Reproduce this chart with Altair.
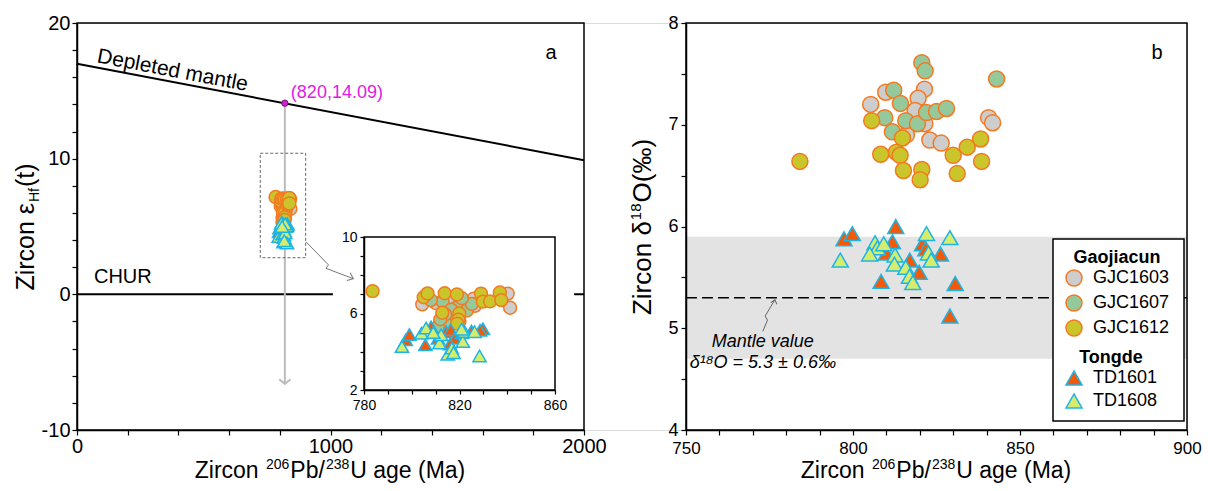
import altair as alt
import pandas as pd

FONT = "Liberation Sans"

# ---------------- data ----------------
# reference curves (left panel)
dm_age = [0, 2000]
dm_eps = [16.99, 9.89]
chur_age = [0, 2000]
chur_eps = [0, 0]
dm_point_age = [820]
dm_point_eps = [14.09]

# zircon eHf(t) (left panel + inset)
hf_gjc1603_age = [804.4, 810.0, 815.4, 826.4, 826.0, 840.2, 841.2, 822.0, 816.0, 818.0, 812.0]
hf_gjc1603_val = [6.48, 6.55, 6.81, 6.40, 6.78, 7.04, 6.30, 6.55, 5.50, 5.80, 5.60]
hf_gjc1607_age = [818.8, 823.0, 825.2, 813.0, 815.0, 811.0, 816.5, 821.0, 814.0, 820.0, 808.0, 812.0]
hf_gjc1607_val = [6.30, 6.15, 6.50, 6.60, 5.40, 5.30, 6.20, 6.80, 5.95, 5.60, 6.70, 5.70]
hf_gjc1612_age = [783.6, 805.0, 806.6, 813.8, 818.9, 812.8, 819.9, 819.5, 819.0, 829.0, 829.8, 832.8, 836.9, 837.5]
hf_gjc1612_val = [7.17, 6.85, 7.05, 7.06, 7.00, 6.04, 6.00, 5.68, 5.47, 7.04, 6.62, 6.63, 7.10, 6.70]
hf_td1601_age = [797.5, 799.0, 805.7, 808.1, 814.4, 816.3, 818.0, 821.0, 825.0, 829.8, 828.6, 811.0, 816.0]
hf_td1601_val = [4.62, 4.90, 4.36, 5.30, 5.05, 5.15, 4.70, 5.00, 5.08, 5.20, 5.12, 4.70, 4.40]
hf_td1608_age = [795.9, 804.1, 806.0, 811.6, 812.3, 815.1, 816.8, 821.4, 822.1, 826.3, 828.4, 820.9, 809.0, 817.5]
hf_td1608_val = [4.27, 4.97, 5.24, 4.45, 4.89, 3.87, 4.19, 4.54, 5.06, 5.05, 3.78, 5.18, 5.00, 3.95]

# zircon d18O (right panel)
o_gjc1603_age = [805.3, 809.8, 821.4, 819.5, 818.6, 816.0, 821.5, 823.0, 826.4, 840.6, 841.8]
o_gjc1603_val = [7.20, 7.32, 7.35, 7.26, 7.14, 6.90, 7.01, 6.85, 6.82, 7.07, 7.02]
o_gjc1607_age = [820.6, 821.6, 812.2, 814.2, 809.5, 815.8, 819.3, 822.0, 825.0, 828.0, 811.8, 843.0]
o_gjc1607_val = [7.61, 7.53, 7.34, 7.21, 7.07, 7.04, 7.01, 7.12, 7.13, 7.16, 6.93, 7.45]
o_gjc1612_age = [784.1, 805.6, 808.3, 813.0, 814.1, 814.8, 815.1, 820.6, 820.1, 830.0, 834.2, 838.2, 838.5, 831.2]
o_gjc1612_val = [6.64, 7.04, 6.71, 6.73, 6.70, 6.87, 6.55, 6.56, 6.46, 6.70, 6.78, 6.86, 6.64, 6.52]
o_td1601_age = [797.3, 799.8, 812.8, 811.8, 810.0, 808.4, 817.0, 819.8, 820.8, 826.2, 830.6, 829.0, 821.8]
o_td1601_val = [5.88, 5.93, 6.00, 5.85, 5.74, 5.46, 5.67, 5.55, 5.83, 5.73, 5.44, 5.12, 5.78]
o_td1608_age = [796.2, 806.6, 807.3, 805.0, 809.2, 812.6, 812.4, 815.8, 816.9, 817.9, 822.0, 822.6, 823.4, 829.0]
o_td1608_val = [5.67, 5.84, 5.79, 5.73, 5.83, 5.72, 5.63, 5.60, 5.51, 5.45, 5.93, 5.74, 5.67, 5.89]

mantle_value = 5.3
mantle_band = [4.7, 5.9]

gjc_samples = ["GJC1603", "GJC1607", "GJC1612"]
td_samples = ["TD1601", "TD1608"]

# ---------------- style ----------------
GJC_FILL = ["#cdcdcd", "#95c99b", "#c9c52b"]
GJC_STROKE = "#f47920"
TD_FILL = ["#f25a0a", "#d6ec6c"]
TD_STROKE = "#1cb5e8"

W, H = 1110, 407


def lin(dom, rng):
    return alt.Scale(domain=dom, range=rng, nice=False, zero=False)


LX = lin([0, 2000], [0, 507])
LY = lin([-10, 20], [H, 0])
IX = lin([780, 860], [287, 478])
IY = lin([2, 10], [367, 214])
RX = lin([750, 900], [609, W])
RY = lin([4, 8], [H, 0])


def axis(orient, values, expr, offset=0, size=18, tick=5, pad=2):
    return alt.Axis(
        orient=orient, values=values, labelExpr=expr, offset=offset, title="",
        grid=False, tickSize=tick, tickWidth=1.2, tickColor="black",
        domainColor="black", domainWidth=1.5, labelFont=FONT, labelFontSize=size,
        labelColor="black", labelPadding=pad, labelFlush=False, labelOverlap=False,
        zindex=1,
    )


ax_lx = axis("bottom", list(range(0, 2001, 200)), "datum.value % 1000 == 0 ? '' + datum.value : ''",
             size=20, pad=1)
ax_ly = axis("left", list(range(-10, 21, 2)), "abs(datum.value % 10) < 0.001 ? '' + datum.value : ''",
             size=20)
ax_ix = axis("bottom", list(range(780, 861, 10)), "(datum.value - 780) % 40 == 0 ? '' + datum.value : ''",
             offset=-(H - 367), size=14, tick=4, pad=4)
ax_iy = axis("left", list(range(2, 11, 1)), "(datum.value - 2) % 4 == 0 ? '' + datum.value : ''",
             offset=-287, size=14, tick=4, pad=3)
ax_rx = axis("bottom", list(range(750, 901, 10)), "datum.value % 50 == 0 ? '' + datum.value : ''",
             size=17, pad=5)
ax_ry = axis("left", [4 + 0.5 * i for i in range(9)], "datum.value % 1 == 0 ? '' + datum.value : ''",
             offset=-609, pad=3)


def xy(xs, ys, xaxis=None, yaxis=None):
    return dict(x=alt.X("age:Q", scale=xs, axis=xaxis), y=alt.Y("val:Q", scale=ys, axis=yaxis))


def frame(xs, ys, xd, yd, xaxis=None, yaxis=None, **kw):
    style = dict(fillOpacity=0, stroke="black", strokeWidth=1.5)
    style.update(kw)
    df = pd.DataFrame({"x0": [xd[0]], "x1": [xd[1]], "y0": [yd[0]], "y1": [yd[1]]})
    return alt.Chart(df).mark_rect(**style).encode(
        x=alt.X("x0:Q", scale=xs, axis=xaxis), x2="x1:Q",
        y=alt.Y("y0:Q", scale=ys, axis=yaxis), y2="y1:Q")


def series_df(ages, vals, samples):
    rows = []
    for a_list, v_list, s in zip(ages, vals, samples):
        for a, v in zip(a_list, v_list):
            rows.append({"age": a, "val": v, "sample": s})
    return pd.DataFrame(rows)


hf_circ = series_df([hf_gjc1603_age, hf_gjc1607_age, hf_gjc1612_age],
                    [hf_gjc1603_val, hf_gjc1607_val, hf_gjc1612_val], gjc_samples)
hf_tri = series_df([hf_td1601_age, hf_td1608_age], [hf_td1601_val, hf_td1608_val], td_samples)
o_circ = series_df([o_gjc1603_age, o_gjc1607_age, o_gjc1612_age],
                   [o_gjc1603_val, o_gjc1607_val, o_gjc1612_val], gjc_samples)
o_tri = series_df([o_td1601_age, o_td1608_age], [o_td1601_val, o_td1608_val], td_samples)


def fixed_points(xs, ys, csize, tsize):
    layers = []
    for s, f in zip(gjc_samples, GJC_FILL):
        layers.append(alt.Chart(hf_circ[hf_circ["sample"] == s]).mark_point(
            shape="circle", filled=True, fill=f, stroke=GJC_STROKE, strokeWidth=1.5,
            opacity=1, size=csize).encode(**xy(xs, ys)))
    for s, f in zip(td_samples, TD_FILL):
        layers.append(alt.Chart(hf_tri[hf_tri["sample"] == s]).mark_point(
            shape="triangle-up", filled=True, fill=f, stroke=TD_STROKE, strokeWidth=1.5,
            opacity=1, size=tsize).encode(**xy(xs, ys)))
    return layers


children = []

# ---------------- left panel: background ----------------
lines_df = pd.DataFrame({"age": dm_age + chur_age, "val": dm_eps + chur_eps,
                         "line": ["DM", "DM", "CHUR", "CHUR"]})
children.append(alt.Chart(lines_df).mark_line(color="black", strokeWidth=2).encode(
    detail="line:N", **xy(LX, LY, ax_lx, ax_ly)))
children.append(frame(LX, LY, [0, 2000], [-10, 20]))

# ---------------- inset ----------------
children.append(frame(IX, IY, [767, 868], [0.4, 10.5], fill="white", fillOpacity=1, strokeWidth=0))
children.append(frame(IX, IY, [780, 860], [2, 10], xaxis=ax_ix, yaxis=ax_iy))
children += fixed_points(IX, IY, 165, 175)

# ---------------- left panel: foreground ----------------
arrow_df = pd.DataFrame({"age": [820, 820], "val": [14.09, -6.6]})
children.append(alt.Chart(arrow_df).mark_line(color="#bcbcbc", strokeWidth=2).encode(**xy(LX, LY)))
children.append(alt.Chart(arrow_df.iloc[[1]]).mark_point(
    shape="M -1 -0.8 L 0 0 L 1 -0.8", filled=False, color="#bcbcbc", strokeWidth=2,
    size=130, opacity=1).encode(**xy(LX, LY)))
children.append(frame(LX, LY, [723, 902], [2.7, 10.4], stroke="#666666", strokeWidth=1,
                      strokeDash=[3, 2]))
conn_df = pd.DataFrame({"age": [904, 992, 982, 1090], "val": [3.86, 2.17, 1.92, 1.15],
                        "o": [0, 1, 2, 3]})
children.append(alt.Chart(conn_df).mark_line(color="#777777", strokeWidth=1).encode(
    order="o:Q", **xy(LX, LY)))
children.append(alt.Chart(conn_df.iloc[[3]]).mark_point(
    shape="M -1 -0.8 L 0 0 L -1 0.8", filled=False, color="#777777", strokeWidth=1,
    size=110, angle=23, opacity=1).encode(**xy(LX, LY)))
dm_pt_df = pd.DataFrame({"age": dm_point_age, "val": dm_point_eps, "text": ["(820,14.09)"]})
children.append(alt.Chart(dm_pt_df).mark_point(
    shape="circle", filled=True, fill="#d21fd2", stroke="#6a1a6a", strokeWidth=1, size=40,
    opacity=1).encode(**xy(LX, LY)))
children.append(alt.Chart(dm_pt_df).mark_text(
    font=FONT, fontSize=18, color="#e020e0", align="left", baseline="middle", dx=6,
    dy=-10).encode(text="text:N", **xy(LX, LY)))
lab_df = pd.DataFrame({"age": [76, 67], "val": [17.1, 1.25], "text": ["Depleted mantle", "CHUR"]})
children.append(alt.Chart(lab_df.iloc[[0]]).mark_text(
    font=FONT, fontSize=21, color="black", align="left", baseline="alphabetic",
    angle=10.8).encode(text="text:N", **xy(LX, LY)))
children.append(alt.Chart(lab_df.iloc[[1]]).mark_text(
    font=FONT, fontSize=20, color="black", align="left", baseline="middle").encode(
    text="text:N", **xy(LX, LY)))
children += fixed_points(LX, LY, 170, 180)

# ---------------- titles (composed text pieces) ----------------
one = pd.DataFrame({"k": [0]})
AW = {"Z": 611, "i": 222, "r": 333, "c": 500, "o": 556, "n": 556, " ": 278, "P": 667,
      "b": 556, "/": 278, "U": 722, "a": 556, "g": 556, "e": 556, "(": 333, "M": 833,
      ")": 333, "O": 778, "\u2030": 1000, "\u03b5": 446, "\u03b4": 556, "H": 722,
      "f": 278, "t": 278}


def tw(s, size):
    return sum(AW.get(ch, 556) for ch in s) * size / 1000.0


def label(text, x, y, size=23, angle=0, align="center", baseline="middle", **kw):
    return alt.Chart(one).mark_text(text=text, font=FONT, fontSize=size, color="black",
                                    angle=angle, align=align, baseline=baseline, **kw).encode(
        x=alt.value(x), y=alt.value(y))


def hpieces(pieces, cx, base, gap=1):
    total = sum(tw(t, s) for t, s, _ in pieces) + gap * (len(pieces) - 1)
    x = cx - total / 2.0
    out = []
    for t, s, shift in pieces:
        out.append(label(t, x, base + shift, size=s, align="left", baseline="alphabetic"))
        x += tw(t, s) + gap
    return out


def vpieces(pieces, cy, base, gap=1):
    total = sum(tw(t, s) for t, s, _ in pieces) + gap * (len(pieces) - 1)
    y = cy + total / 2.0
    out = []
    for t, s, shift in pieces:
        out.append(label(t, base + shift, y, size=s, angle=270, align="left",
                         baseline="alphabetic"))
        y -= tw(t, s) + gap
    return out


xt = [("Zircon ", 23, 0), ("206", 14, -9), ("Pb/", 23, 0), ("238", 14, -9), ("U age (Ma)", 23, 0)]
children += hpieces(xt, 253, 455)
children += hpieces(xt, 859, 455)
children += vpieces([("Zircon \u03b5", 25, 0), ("Hf", 14, 5), ("(t)", 25, 0)], 204, -43)
children += vpieces([("Zircon \u03b4", 26, 0), ("18", 15, -10), ("O(\u2030)", 26, 0)], 204, 574)
children.append(label("a", 474, 30, size=20))
children.append(label("b", 1080, 30, size=20))

# ---------------- right panel ----------------
children.append(frame(RX, RY, [750, 900], mantle_band, xaxis=ax_rx, yaxis=ax_ry,
                      fill="#e3e3e3", fillOpacity=1, strokeWidth=0))
mline_df = pd.DataFrame({"age": [750, 900], "val": [mantle_value, mantle_value]})
children.append(alt.Chart(mline_df).mark_line(color="black", strokeWidth=1.3,
                                              strokeDash=[11, 5]).encode(**xy(RX, RY)))
children.append(frame(RX, RY, [750, 900], [4, 8]))
children.append(alt.Chart(one).mark_rect(fill="white", stroke="black", strokeWidth=1.5).encode(
    x=alt.value(976), x2=alt.value(1107), y=alt.value(216), y2=alt.value(398)))

leg_common = dict(orient="none", titleFont=FONT, titleFontSize=18, titleFontWeight="bold",
                  titleAnchor="middle", titleColor="black", labelFont=FONT,
                  labelFontSize=18, labelColor="black", rowPadding=3, labelOffset=10,
                  padding=0, titlePadding=2, symbolStrokeWidth=1.5, symbolSize=256,
                  symbolOpacity=1)
children.append(alt.Chart(o_circ).mark_point(
    shape="circle", filled=True, size=256, stroke=GJC_STROKE, strokeWidth=1.5, opacity=1).encode(
    fill=alt.Fill("sample:N", scale=alt.Scale(domain=gjc_samples, range=GJC_FILL),
                  legend=alt.Legend(title="Gaojiacun", legendX=988, legendY=226,
                                    symbolType="circle", symbolStrokeColor=GJC_STROKE,
                                    **leg_common)),
    **xy(RX, RY)))
children.append(alt.Chart(o_tri).mark_point(
    shape="triangle-up", filled=True, size=256, stroke=TD_STROKE, strokeWidth=1.5, opacity=1).encode(
    fill=alt.Fill("sample:N", scale=alt.Scale(domain=td_samples, range=TD_FILL),
                  legend=alt.Legend(title="Tongde", legendX=988, legendY=326,
                                    symbolType="triangle-up", symbolStrokeColor=TD_STROKE,
                                    **leg_common)),
    **xy(RX, RY)))
mtext_df = pd.DataFrame({"age": [773, 773], "val": [4.86, 4.66],
                         "text": ["Mantle value", "\u03b4\u00b9\u2078O = 5.3 \u00b1 0.6\u2030"]})
children.append(alt.Chart(mtext_df).mark_text(
    font=FONT, fontSize=18, fontStyle="italic", color="black", align="center",
    baseline="middle").encode(text="text:N", **xy(RX, RY)))
sq_df = pd.DataFrame({"age": [773.0, 774.4, 773.7, 776.6], "val": [4.97, 5.08, 5.12, 5.28],
                      "o": [0, 1, 2, 3]})
children.append(alt.Chart(sq_df).mark_line(color="#666666", strokeWidth=1).encode(
    order="o:Q", **xy(RX, RY)))
children.append(alt.Chart(sq_df.iloc[[3]]).mark_point(
    shape="M -0.8 1 L 0 0 L 0.8 1", filled=False, color="#666666", strokeWidth=1,
    size=60, angle=15, opacity=1).encode(**xy(RX, RY)))

chart = alt.layer(*children).resolve_scale(
    x="independent", y="independent", fill="independent").properties(
    width=W, height=H, autosize="none",
    padding={"left": 77, "top": 23, "right": 21, "bottom": 61},
).configure_view(stroke="transparent").configure(background="white")

chart.save("out.html", embed_options={"renderer": "svg", "actions": False})
